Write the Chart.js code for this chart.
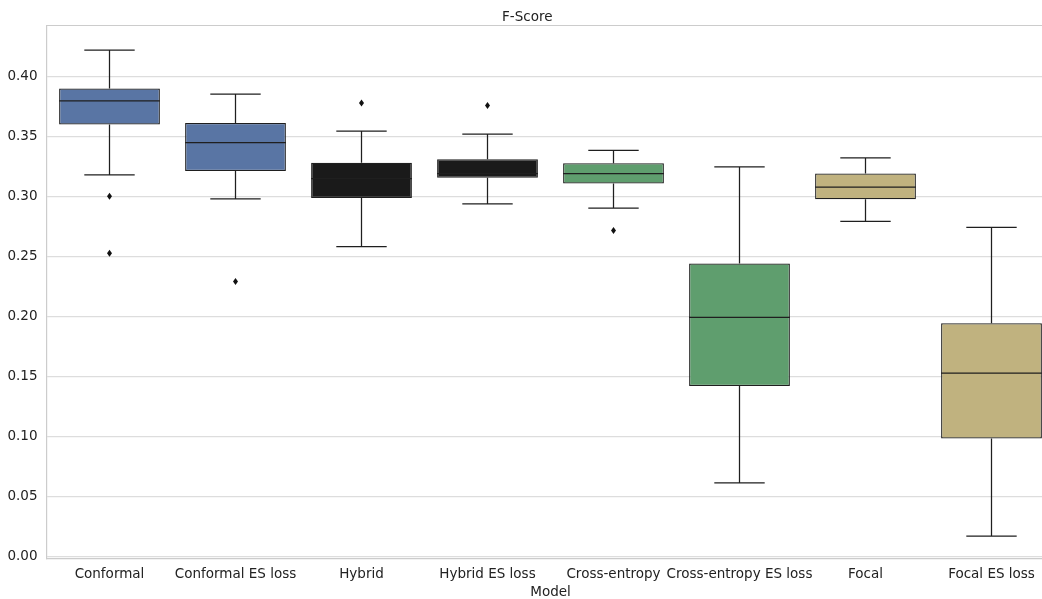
<!DOCTYPE html>
<html>
<head>
<meta charset="utf-8">
<script src="https://cdn.jsdelivr.net/npm/chart.js@4"></script>
<style>
  html, body { margin: 0; padding: 0; background: #fff; overflow: hidden; }
  #wrap { width: 1056px; height: 599px; }
</style>
</head>
<body>
<div id="wrap"><canvas id="fscore"></canvas></div>
<script>
// box plot data
var models = ["Conformal", "Conformal ES loss", "Hybrid", "Hybrid ES loss", "Cross-entropy", "Cross-entropy ES loss", "Focal", "Focal ES loss"];
var whiskerLow  = [0.3178, 0.2978, 0.258, 0.2936, 0.290, 0.061, 0.279, 0.0167];
var q1          = [0.3597, 0.3211, 0.2986, 0.3153, 0.3106, 0.1417, 0.2975, 0.098];
var medians     = [0.3794, 0.3447, 0.3147, 0.3189, 0.3189, 0.199, 0.3075, 0.1525];
var q3          = [0.3897, 0.3611, 0.3278, 0.3308, 0.3275, 0.244, 0.319, 0.194];
var whiskerHigh = [0.4217, 0.385, 0.3542, 0.3517, 0.3383, 0.3244, 0.332, 0.274];
var outliers    = [[0.300, 0.2525], [0.229], [0.3778], [0.3756], [0.2714], [], [], []];
var boxColors = ["#5975a4", "#5975a4", "#1a1a1a", "#1a1a1a", "#5f9e6e", "#5f9e6e", "#c0b27f", "#c0b27f"];
var yTicks = [0, 0.05, 0.10, 0.15, 0.20, 0.25, 0.30, 0.35, 0.40];

var lineColor = "#1f1f1f";
var textFont = { family: "DejaVu Sans", size: 13.5 };

// whiskers, medians, outliers and the top spine
var boxExtras = {
  id: "boxExtras",
  afterDatasetsDraw: function(chart) {
    var ctx = chart.ctx;
    var y = chart.scales.y;
    var bars = chart.getDatasetMeta(0).data;
    ctx.save();
    ctx.strokeStyle = lineColor;
    ctx.lineWidth = 1.25;
    bars.forEach(function(bar, i) {
      var cx = bar.x;
      var hw = bar.width / 2;
      var cw = hw / 2;
      var yTop = y.getPixelForValue(q3[i]);
      var yBot = y.getPixelForValue(q1[i]);
      var yHi = y.getPixelForValue(whiskerHigh[i]);
      var yLo = y.getPixelForValue(whiskerLow[i]);
      var yMed = y.getPixelForValue(medians[i]);
      ctx.beginPath();
      ctx.moveTo(cx, yTop); ctx.lineTo(cx, yHi);
      ctx.moveTo(cx - cw, yHi); ctx.lineTo(cx + cw, yHi);
      ctx.moveTo(cx, yBot); ctx.lineTo(cx, yLo);
      ctx.moveTo(cx - cw, yLo); ctx.lineTo(cx + cw, yLo);
      ctx.moveTo(cx - hw, yMed); ctx.lineTo(cx + hw, yMed);
      ctx.stroke();
      ctx.fillStyle = "#111";
      outliers[i].forEach(function(v) {
        var py = y.getPixelForValue(v);
        ctx.beginPath();
        ctx.moveTo(cx, py - 3.5);
        ctx.lineTo(cx + 2.5, py);
        ctx.lineTo(cx, py + 3.5);
        ctx.lineTo(cx - 2.5, py);
        ctx.closePath();
        ctx.fill();
      });
    });
    var a = chart.chartArea;
    ctx.strokeStyle = "#cccccc";
    ctx.lineWidth = 1.2;
    ctx.beginPath();
    ctx.moveTo(a.left, a.top);
    ctx.lineTo(a.right, a.top);
    ctx.lineTo(a.right, a.bottom);
    ctx.stroke();
    ctx.restore();
  }
};

new Chart("fscore", {
  type: "bar",
  data: {
    labels: models,
    datasets: [{
      data: models.map(function(m, i) { return [q1[i], q3[i]]; }),
      backgroundColor: boxColors,
      borderColor: lineColor,
      borderWidth: 1.25,
      borderSkipped: false,
      barPercentage: 0.8,
      categoryPercentage: 1.0
    }]
  },
  options: {
    responsive: true,
    maintainAspectRatio: false,
    animation: false,
    layout: { padding: { left: 0, right: 1.5, top: 0, bottom: 0 } },
    plugins: {
      legend: { display: false },
      tooltip: { enabled: false },
      title: {
        display: true,
        text: "F-Score",
        color: "#222222",
        font: { family: "DejaVu Sans", size: 13.5, weight: "normal" },
        padding: { top: 9.3, bottom: 0 }
      }
    },
    scales: {
      x: {
        afterFit: function(scale) { scale.height = 40.5; },
        grid: { display: false, drawTicks: false },
        border: { display: true, color: "#cccccc", width: 1.2 },
        ticks: {
          color: "#222222",
          padding: 7.5,
          maxRotation: 0,
          autoSkip: false,
          font: textFont
        },
        title: {
          display: true,
          text: "Model",
          color: "#222222",
          padding: { top: 0, bottom: -1.5 },
          font: textFont
        }
      },
      y: {
        min: -0.002,
        max: 0.4423,
        afterBuildTicks: function(scale) {
          scale.ticks = yTicks.map(function(v) { return { value: v }; });
        },
        afterFit: function(scale) { scale.width = 46.5; },
        grid: { color: "#dddddd", lineWidth: 1.2, drawTicks: false },
        border: { display: true, color: "#cccccc", width: 1.2 },
        ticks: {
          color: "#222222",
          padding: 9,
          font: textFont,
          callback: function(v) { return Number(v).toFixed(2); }
        }
      }
    }
  },
  plugins: [boxExtras]
});
</script>
</body>
</html>
